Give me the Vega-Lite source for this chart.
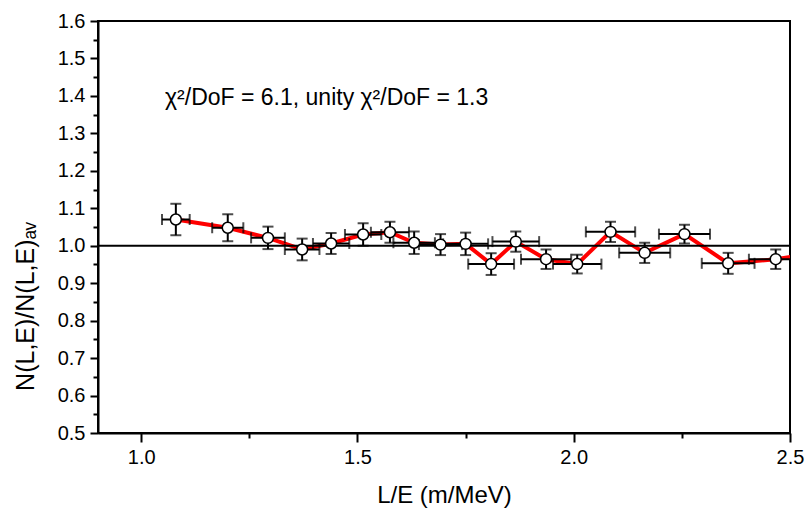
{
  "$schema": "https://vega.github.io/schema/vega-lite/v6.json",
  "autosize": "none",
  "width": 692,
  "height": 412,
  "padding": {"left": 98, "top": 21, "right": 18, "bottom": 81},
  "background": "white",
  "config": {
    "view": {"stroke": "black", "strokeWidth": 2},
    "font": "Liberation Sans",
    "axis": {
      "domainColor": "black", "domainWidth": 2, "tickColor": "black", "tickWidth": 2,
      "labelColor": "black", "titleColor": "black", "labelFont": "Liberation Sans", "titleFont": "Liberation Sans",
      "labelFontSize": 20, "titleFontSize": 24, "titleFontWeight": "normal", "grid": false,
      "labelOverlap": false, "labelFlush": false, "labelBound": false
    }
  },
  "resolve": {"axis": {"x": "independent", "y": "independent"}},
  "data": {
    "values": [
      {"x": 1.080, "y": 1.070, "xlo": 1.048, "xhi": 1.112, "ylo": 1.028, "yhi": 1.112},
      {"x": 1.200, "y": 1.048, "xlo": 1.164, "xhi": 1.236, "ylo": 1.012, "yhi": 1.084},
      {"x": 1.293, "y": 1.021, "xlo": 1.254, "xhi": 1.332, "ylo": 0.991, "yhi": 1.051},
      {"x": 1.372, "y": 0.990, "xlo": 1.332, "xhi": 1.412, "ylo": 0.961, "yhi": 1.019},
      {"x": 1.439, "y": 1.006, "xlo": 1.397, "xhi": 1.481, "ylo": 0.978, "yhi": 1.034},
      {"x": 1.513, "y": 1.030, "xlo": 1.471, "xhi": 1.555, "ylo": 1.000, "yhi": 1.060},
      {"x": 1.575, "y": 1.036, "xlo": 1.531, "xhi": 1.619, "ylo": 1.008, "yhi": 1.064},
      {"x": 1.631, "y": 1.008, "xlo": 1.583, "xhi": 1.679, "ylo": 0.978, "yhi": 1.038},
      {"x": 1.692, "y": 1.003, "xlo": 1.642, "xhi": 1.742, "ylo": 0.975, "yhi": 1.031},
      {"x": 1.750, "y": 1.005, "xlo": 1.698, "xhi": 1.802, "ylo": 0.975, "yhi": 1.035},
      {"x": 1.809, "y": 0.951, "xlo": 1.756, "xhi": 1.862, "ylo": 0.922, "yhi": 0.980},
      {"x": 1.866, "y": 1.011, "xlo": 1.812, "xhi": 1.920, "ylo": 0.984, "yhi": 1.038},
      {"x": 1.936, "y": 0.964, "xlo": 1.878, "xhi": 1.994, "ylo": 0.938, "yhi": 0.990},
      {"x": 2.008, "y": 0.951, "xlo": 1.952, "xhi": 2.064, "ylo": 0.926, "yhi": 0.976},
      {"x": 2.085, "y": 1.037, "xlo": 2.028, "xhi": 2.142, "ylo": 1.010, "yhi": 1.064},
      {"x": 2.164, "y": 0.981, "xlo": 2.105, "xhi": 2.223, "ylo": 0.954, "yhi": 1.008},
      {"x": 2.256, "y": 1.031, "xlo": 2.197, "xhi": 2.315, "ylo": 1.006, "yhi": 1.056},
      {"x": 2.357, "y": 0.953, "xlo": 2.296, "xhi": 2.418, "ylo": 0.925, "yhi": 0.981},
      {"x": 2.467, "y": 0.964, "xlo": 2.405, "xhi": 2.529, "ylo": 0.938, "yhi": 0.990},
      {"x": 2.580, "y": 0.985, "xlo": 2.518, "xhi": 2.642, "ylo": 0.958, "yhi": 1.012}
    ]
  },
  "layer": [
    {
      "mark": {"type": "line", "color": "#ff0000", "strokeWidth": 4, "clip": true},
      "encoding": {
        "x": {
          "field": "x", "type": "quantitative",
          "scale": {"domain": [0.9, 2.5], "nice": false, "zero": false},
          "axis": {
            "orient": "bottom",
            "title": "L/E (m/MeV)",
            "values": [1.0, 1.5, 2.0, 2.5],
            "format": ".1f",
            "tickSize": 9,
            "labelPadding": 5,
            "titlePadding": 16
          }
        },
        "y": {
          "field": "y", "type": "quantitative",
          "scale": {"domain": [0.5, 1.6], "nice": false, "zero": false},
          "axis": {
            "orient": "left",
            "title": "N(L,E)/N(L,E)ₐᵥ",
            "titleFontSize": 25,
            "values": [0.5, 0.6, 0.7, 0.8, 0.9, 1.0, 1.1, 1.2, 1.3, 1.4, 1.5, 1.6],
            "format": ".1f",
            "tickSize": 8,
            "labelPadding": 5,
            "titleX": -73,
            "titleY": 285,
            "titleBaseline": "middle",
            "titleAlign": "center"
          }
        },
        "order": {"field": "x", "type": "quantitative"}
      }
    },
    {
      "data": {"values": [{}]},
      "mark": {"type": "rule", "color": "black", "strokeWidth": 2.2},
      "encoding": {"y": {"datum": 1.0, "type": "quantitative", "axis": null}}
    },
    {
      "mark": {"type": "rule", "color": "black", "strokeWidth": 2, "clip": true},
      "encoding": {
        "x": {"field": "xlo", "type": "quantitative", "axis": null},
        "x2": {"field": "xhi"},
        "y": {"field": "y", "type": "quantitative", "axis": null}
      }
    },
    {
      "mark": {"type": "rule", "color": "black", "strokeWidth": 2, "clip": true},
      "encoding": {
        "x": {"field": "x", "type": "quantitative", "axis": null},
        "y": {"field": "ylo", "type": "quantitative", "axis": null},
        "y2": {"field": "yhi"}
      }
    },
    {
      "mark": {"type": "tick", "orient": "vertical", "color": "black", "size": 11, "thickness": 2, "clip": true},
      "encoding": {"x": {"field": "xlo", "type": "quantitative", "axis": null}, "y": {"field": "y", "type": "quantitative", "axis": null}}
    },
    {
      "mark": {"type": "tick", "orient": "vertical", "color": "black", "size": 11, "thickness": 2, "clip": true},
      "encoding": {"x": {"field": "xhi", "type": "quantitative", "axis": null}, "y": {"field": "y", "type": "quantitative", "axis": null}}
    },
    {
      "mark": {"type": "tick", "orient": "horizontal", "color": "black", "size": 11, "thickness": 2, "clip": true},
      "encoding": {"x": {"field": "x", "type": "quantitative", "axis": null}, "y": {"field": "ylo", "type": "quantitative", "axis": null}}
    },
    {
      "mark": {"type": "tick", "orient": "horizontal", "color": "black", "size": 11, "thickness": 2, "clip": true},
      "encoding": {"x": {"field": "x", "type": "quantitative", "axis": null}, "y": {"field": "yhi", "type": "quantitative", "axis": null}}
    },
    {
      "mark": {"type": "point", "shape": "circle", "filled": true, "fill": "white", "stroke": "black", "strokeWidth": 1.5, "size": 120, "opacity": 1, "clip": true},
      "encoding": {
        "x": {"field": "x", "type": "quantitative", "axis": {"orient": "bottom", "values": [1.25, 1.75, 2.25], "labels": false, "domain": false, "tickSize": 5, "title": null}},
        "y": {"field": "y", "type": "quantitative", "axis": {"orient": "left", "values": [0.55, 0.65, 0.75, 0.85, 0.95, 1.05, 1.15, 1.25, 1.35, 1.45, 1.55], "labels": false, "domain": false, "tickSize": 5, "title": null}}
      }
    },
    {
      "data": {"values": [{}]},
      "mark": {"type": "text", "text": "χ²/DoF = 6.1, unity χ²/DoF = 1.3", "align": "left", "baseline": "middle", "fontSize": 23, "font": "Liberation Sans", "fontWeight": "normal", "fill": "black"},
      "encoding": {"x": {"datum": 1.055, "type": "quantitative", "axis": null}, "y": {"datum": 1.395, "type": "quantitative", "axis": null}}
    }
  ]
}
